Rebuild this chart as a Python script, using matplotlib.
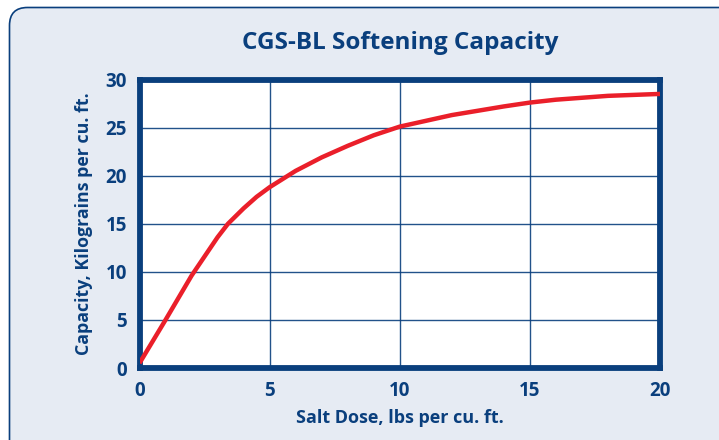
import matplotlib.pyplot as plt
from matplotlib.patches import FancyBboxPatch

# salt dose (lbs per cu. ft.) vs capacity (kilograins per cu. ft.)
salt_dose = [0, 1, 2, 3, 3.4, 4, 4.5, 5, 6, 7, 8, 9, 10, 12, 14, 15, 16, 18, 20]
capacity = [0.5, 5.0, 9.6, 13.6, 15.0, 16.6, 17.8, 18.8, 20.5, 21.9, 23.1,
            24.2, 25.1, 26.3, 27.2, 27.6, 27.9, 28.3, 28.5]
x_ticks = [0, 5, 10, 15, 20]
y_ticks = [0, 5, 10, 15, 20, 25, 30]

navy = "#0a3f7d"
red = "#ea1f2a"
panel = "#e6ebf3"

plt.rcParams["font.family"] = ["Open Sans", "DejaVu Sans"]

fig = plt.figure(figsize=(7.19, 4.40), dpi=100)
fig.patch.set_facecolor("white")

# rounded panel behind the chart
box = FancyBboxPatch((9.5 / 719, -0.1), 1.2, 1 - 7.5 / 440 + 0.1,
                     boxstyle="round,pad=0,rounding_size=0.025",
                     transform=fig.transFigure, facecolor=panel,
                     edgecolor=navy, linewidth=1.2, zorder=-5,
                     mutation_aspect=719 / 440)
fig.patches.append(box)

ax = fig.add_axes([139.5 / 719, 1 - 368 / 440, 520.5 / 719, 288.5 / 440])
ax.set_zorder(2)
ax.set_facecolor("white")
ax.plot(salt_dose, capacity, color=red, linewidth=3.2, solid_capstyle="butt",
        solid_joinstyle="round", zorder=3)

ax.set_xlim(0, 20)
ax.set_ylim(0, 30)
ax.set_xticks(x_ticks)
ax.set_yticks(y_ticks)
ax.grid(True, color=navy, linewidth=1.0, alpha=0.9)
ax.tick_params(length=0, labelsize=13.5, labelcolor=navy)
ax.tick_params(axis="y", pad=9)
ax.tick_params(axis="x", pad=9)
for lbl in ax.get_xticklabels() + ax.get_yticklabels():
    lbl.set_fontweight("bold")
for sp in ax.spines.values():
    sp.set_color(navy)
    sp.set_linewidth(4.2)

ax.set_xlabel("Salt Dose, lbs per cu. ft.", fontsize=13, fontweight="bold",
              color=navy, labelpad=6)
ax.set_ylabel("Capacity, Kilograins per cu. ft.", fontsize=12.8,
              fontweight="bold", color=navy, labelpad=9)
fig.text(400 / 719, 1 - 43 / 440, "CGS-BL Softening Capacity",
         fontsize=17.5, fontweight="bold", color=navy, ha="center", va="center",
         zorder=3)

fig.savefig("out.png", dpi=100, facecolor=fig.get_facecolor())
